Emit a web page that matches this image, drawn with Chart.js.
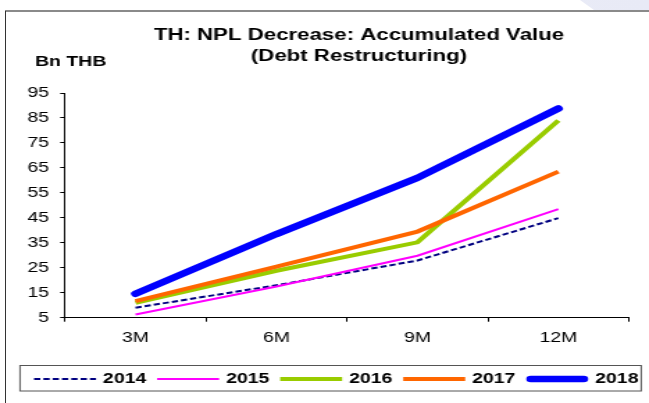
<!DOCTYPE html>
<html>
<head>
<meta charset="utf-8">
<script src="https://cdn.jsdelivr.net/npm/chart.js@4/dist/chart.umd.min.js"></script>
<style>
	html, body { margin: 0; padding: 0; background: #fff; }
	#page { position: relative; width: 649px; height: 403px; overflow: hidden; background: #fff; }
	#corner { position: absolute; left: 0; top: 0; width: 649px; height: 10px;
		background: linear-gradient(90deg, #eef0f9, #e8eaf6);
		clip-path: polygon(580px 0, 649px 0, 649px 10px, 594px 10px); }
	#frameTop { position: absolute; left: 5px; top: 10px; width: 644px; height: 2px; background: #8a8a8a; }
	#frameLeft { position: absolute; left: 5px; top: 11px; width: 1px; height: 392px; background: #333; }
	/* the chart is drawn narrow and widened, so text and strokes come out stretched */
	#wrap { position: absolute; left: 0; top: 0; width: 467px; height: 403px;
		transform: scaleX(1.3897); transform-origin: 0 0; }
</style>
</head>
<body>
<div id="page">
	<div id="corner"></div>
	<div id="frameTop"></div>
	<div id="frameLeft"></div>
	<div id="wrap"><canvas id="nplChart"></canvas></div>
</div>
<script>
const periods = ['3M', '6M', '9M', '12M'];
const years = ['2014', '2015', '2016', '2017', '2018'];
const npl2014 = [9.0, 18.0, 27.9, 44.9];
const npl2015 = [6.3, 17.5, 29.8, 48.5];
const npl2016 = [11.0, 23.8, 35.2, 84.0];
const npl2017 = [11.6, 25.5, 39.5, 63.5];
const npl2018 = [14.6, 38.5, 61.0, 88.8];
const yTicks = [5, 15, 25, 35, 45, 55, 65, 75, 85, 95];

const chartTitle = ['TH: NPL Decrease: Accumulated Value', '(Debt Restructuring)'];
const unitLabel = 'Bn THB';

const FONT = '"Liberation Sans", Arial, sans-serif';
Chart.defaults.font.family = FONT;
Chart.defaults.font.size = 14;
Chart.defaults.color = '#000';

function series(label, data, color, width, order, extra) {
	return Object.assign({
		label: label,
		data: data,
		borderColor: color,
		backgroundColor: color,
		borderWidth: width,
		pointRadius: 0,
		pointHoverRadius: 0,
		tension: 0,
		fill: false,
		order: order
	}, extra || {});
}

// title, unit label and a boxed legend with line samples
const decorations = {
	id: 'decorations',
	afterDraw(chart) {
		const ctx = chart.ctx;
		ctx.save();
		ctx.fillStyle = '#000';
		ctx.textBaseline = 'middle';
		ctx.font = 'bold 16px ' + FONT;
		ctx.textAlign = 'center';
		ctx.fillText(chartTitle[0], 258.3, 36);
		ctx.fillText(chartTitle[1], 258.3, 56.5);
		ctx.font = 'bold 14px ' + FONT;
		ctx.textAlign = 'left';
		ctx.fillText(unitLabel, 25.2, 62);

		// legend
		const boxLeft = 14.4, boxTop = 365.5, boxW = 447, boxH = 25.5;
		ctx.strokeStyle = '#555';
		ctx.lineWidth = 1;
		ctx.strokeRect(boxLeft, boxTop, boxW, boxH);
		const cy = 379;
		const lineLen = 44.6, gap = 5, pad = 7.8;
		let x = 24.5;
		chart.data.datasets.forEach(ds => {
			ctx.save();
			ctx.strokeStyle = ds.borderColor;
			ctx.lineWidth = ds.borderWidth;
			ctx.setLineDash(ds.borderDash || []);
			ctx.lineCap = ds.borderCapStyle || 'butt';
			const inset = ctx.lineCap === 'round' ? ds.borderWidth / 2 : 0;
			ctx.beginPath();
			ctx.moveTo(x + inset, cy);
			ctx.lineTo(x + lineLen - inset, cy);
			ctx.stroke();
			ctx.restore();
			const tx = x + lineLen + gap;
			ctx.fillText(ds.label, tx, cy);
			x = tx + ctx.measureText(ds.label).width + pad;
		});
		ctx.restore();
	}
};

new Chart(document.getElementById('nplChart'), {
	type: 'line',
	data: {
		labels: periods,
		datasets: [
			series(years[0], npl2014, '#000080', 2, 5, { borderDash: [4.5, 2.2] }),
			series(years[1], npl2015, '#ff00ff', 2, 4),
			series(years[2], npl2016, '#99cc00', 4, 3),
			series(years[3], npl2017, '#ff6600', 4, 2),
			series(years[4], npl2018, '#0000ff', 6.5, 1, { borderCapStyle: 'round', borderJoinStyle: 'round' })
		]
	},
	options: {
		responsive: true,
		maintainAspectRatio: false,
		animation: false,
		devicePixelRatio: 1,
		layout: { padding: { left: 14, right: 14.5, top: 93, bottom: 48.5 } },
		plugins: {
			title: { display: false },
			tooltip: { enabled: false },
			legend: { display: false }
		},
		scales: {
			x: {
				offset: true,
				border: { display: true, color: '#000', width: 1 },
				grid: { display: true, offset: true, drawOnChartArea: false, drawTicks: true, tickLength: 4, color: '#000' },
				ticks: { padding: 8, color: '#000', font: { size: 14 } }
			},
			y: {
				min: yTicks[0],
				max: yTicks[yTicks.length - 1],
				afterBuildTicks(scale) {
					scale.ticks = yTicks.map(v => ({ value: v }));
				},
				afterFit(scale) {
					scale.width = 32.8;
				},
				border: { display: true, color: '#000', width: 1 },
				grid: { display: true, drawOnChartArea: false, drawTicks: true, tickLength: 3.5, color: '#000' },
				ticks: { padding: 8, color: '#000', font: { size: 14 } }
			}
		}
	},
	plugins: [decorations]
});
</script>
</body>
</html>
